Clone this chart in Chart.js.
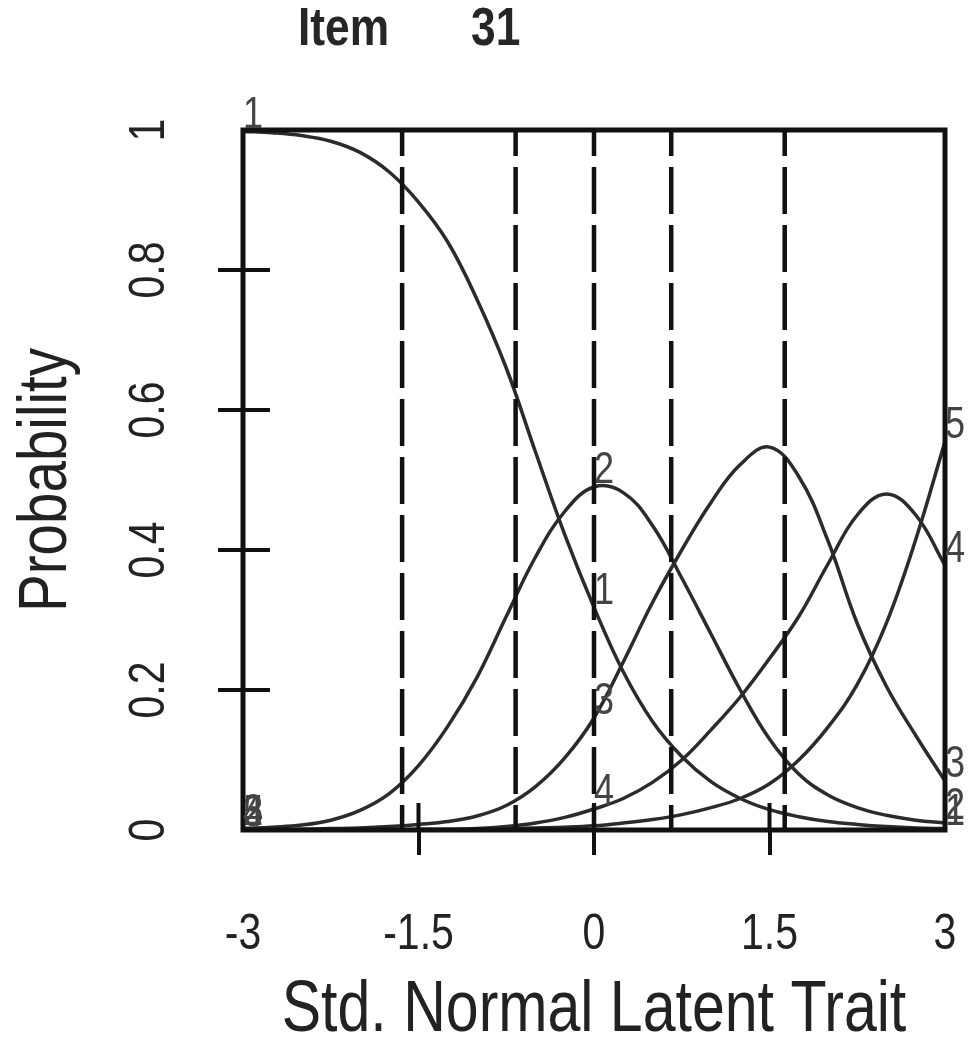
<!DOCTYPE html>
<html>
<head>
<meta charset="utf-8">
<script src="https://cdn.jsdelivr.net/npm/chart.js@4/dist/chart.umd.min.js"></script>
<style>
  html, body { margin: 0; padding: 0; background: #ffffff; }
  #wrap { width: 980px; height: 1050px; position: relative; }
</style>
</head>
<body>
<div id="wrap"><canvas id="c" width="980" height="1050"></canvas></div>
<script>
// ---------------- data ----------------
const titleWord = 'Item';
const titleNumber = '31';
const xAxisTitle = 'Std. Normal Latent Trait';
const yAxisTitle = 'Probability';

const xTickValues = [-3, -1.5, 0, 1.5, 3];
const xTickLabels = ['-3', '-1.5', '0', '1.5', '3'];
const yTickValues = [0, 0.2, 0.4, 0.6, 0.8, 1];
const yTickLabels = ['0', '0.2', '0.4', '0.6', '0.8', '1'];

const theta = [-3, -2.75, -2.5, -2.25, -2, -1.75, -1.5, -1.25, -1, -0.75, -0.5, -0.25,
               0, 0.25, 0.5, 0.75, 1, 1.25, 1.5, 1.75, 2, 2.25, 2.5, 2.75, 3];

const categoryNames = ['1', '2', '3', '4', '5'];
const cat1 = [0.998, 0.996, 0.992, 0.984, 0.968, 0.940, 0.897, 0.840, 0.758, 0.660, 0.540, 0.422,
              0.318, 0.226, 0.155, 0.105, 0.069, 0.045, 0.029, 0.019, 0.012, 0.008, 0.005, 0.003, 0.002];
const cat2 = [0.002, 0.004, 0.007, 0.014, 0.028, 0.052, 0.092, 0.148, 0.218, 0.305, 0.390, 0.455,
              0.490, 0.482, 0.435, 0.360, 0.280, 0.200, 0.130, 0.080, 0.050, 0.032, 0.021, 0.014, 0.010];
const cat3 = [0.000, 0.000, 0.001, 0.002, 0.003, 0.005, 0.008, 0.012, 0.020, 0.035, 0.062, 0.103,
              0.160, 0.240, 0.325, 0.400, 0.468, 0.522, 0.547, 0.505, 0.413, 0.295, 0.205, 0.135, 0.070];
const cat4 = [0.000, 0.000, 0.000, 0.000, 0.000, 0.000, 0.001, 0.001, 0.002, 0.005, 0.010, 0.018,
              0.030, 0.045, 0.068, 0.100, 0.143, 0.190, 0.245, 0.305, 0.380, 0.450, 0.480, 0.450, 0.378];
const cat5 = [0.000, 0.000, 0.000, 0.000, 0.000, 0.000, 0.000, 0.000, 0.001, 0.002, 0.003, 0.004,
              0.006, 0.010, 0.015, 0.022, 0.032, 0.045, 0.066, 0.100, 0.147, 0.208, 0.296, 0.415, 0.555];
const categories = [cat1, cat2, cat3, cat4, cat5];

// theta values where the curves carry their category number
const labelAt1 = [-3, 0, 3];
const labelAt2 = [-3, 0, 3];
const labelAt3 = [-3, 0, 3];
const labelAt4 = [-3, 0, 3];
const labelAt5 = [-3, 3];
const labelPositions = [labelAt1, labelAt2, labelAt3, labelAt4, labelAt5];

// dashed vertical reference lines
const cutPoints = [-1.64, -0.67, 0, 0.66, 1.63];

// ---------------- chart ----------------
const FONT = "'Liberation Sans', Arial, sans-serif";
const SQUEEZE = 0.82;   // the reference text is horizontally condensed

const canvas = document.getElementById('c');
const ctx2d = canvas.getContext('2d');
const origFillText = ctx2d.fillText.bind(ctx2d);
ctx2d.fillText = function (text, x, y, maxWidth) {
  this.save();
  this.translate(x, y);
  this.scale(SQUEEZE, 1);
  if (maxWidth === undefined) origFillText(text, 0, 0);
  else origFillText(text, 0, 0, maxWidth / SQUEEZE);
  this.restore();
};

const curveSets = categories.map((vals, i) => ({
  label: 'Category ' + categoryNames[i],
  data: theta.map((t, k) => ({ x: t, y: vals[k] })),
  borderColor: '#2b2b2b',
  borderWidth: 3.5,
  pointRadius: 0,
  fill: false,
  tension: 0.4
}));

const cutSets = cutPoints.map((c) => ({
  label: 'cut ' + c,
  data: [{ x: c, y: 1 }, { x: c, y: 0 }],
  borderColor: '#111111',
  borderWidth: 4.5,
  borderDash: [47, 11],
  borderDashOffset: 21,
  pointRadius: 0,
  fill: false,
  tension: 0
}));

const endTick = (ctx, list) => {
  const v = ctx.tick ? ctx.tick.value : null;
  return (v === list[0] || v === list[list.length - 1]) ? 'rgba(0,0,0,0)' : '#111111';
};

const decorPlugin = {
  id: 'decor',
  afterDatasetsDraw(chart) {
    const { ctx, chartArea: a, scales } = chart;
    const xs = scales.x, ys = scales.y;
    ctx.save();
    // plot frame
    ctx.strokeStyle = '#111111';
    ctx.lineWidth = 5;
    ctx.strokeRect(a.left, a.top, a.right - a.left, a.bottom - a.top);
    // inner halves of the tick marks
    ctx.lineWidth = 4;
    ctx.beginPath();
    xTickValues.slice(1, -1).forEach(v => {
      const px = xs.getPixelForValue(v);
      ctx.moveTo(px, a.bottom); ctx.lineTo(px, a.bottom - 27);
    });
    yTickValues.slice(1, -1).forEach(v => {
      const py = ys.getPixelForValue(v);
      ctx.moveTo(a.left, py); ctx.lineTo(a.left + 27, py);
    });
    ctx.stroke();
    // category numbers on the curves
    ctx.font = '44px ' + FONT;
    ctx.fillStyle = '#444444';
    ctx.textAlign = 'center';
    ctx.textBaseline = 'middle';
    labelPositions.forEach((list, i) => {
      list.forEach(t => {
        const k = theta.indexOf(t);
        const val = categories[i][k];
        ctx.fillText(categoryNames[i], xs.getPixelForValue(t) + 10, ys.getPixelForValue(val) - 16);
      });
    });
    // title
    ctx.font = 'bold 54px ' + FONT;
    ctx.fillStyle = '#262626';
    ctx.textAlign = 'left';
    ctx.textBaseline = 'alphabetic';
    ctx.fillText(titleWord, 298, 45);
    ctx.fillText(titleNumber, 471, 45);
    ctx.restore();
  }
};

new Chart(canvas, {
  type: 'line',
  data: { datasets: [...cutSets, ...curveSets] },
  plugins: [decorPlugin],
  options: {
    responsive: false,
    animation: false,
    events: [],
    layout: { padding: { left: 0, right: 35, top: 130, bottom: 0 } },
    plugins: { legend: { display: false }, tooltip: { enabled: false }, title: { display: false } },
    scales: {
      x: {
        type: 'linear', min: -3, max: 3,
        afterFit: s => { s.height = 220; s.paddingLeft = 0; s.paddingRight = 0; },
        afterBuildTicks: s => { s.ticks = xTickValues.map(v => ({ value: v })); },
        border: { display: false },
        grid: {
          drawOnChartArea: false, drawTicks: true, tickLength: 25, lineWidth: 4,
          color: ctx => endTick(ctx, xTickValues), tickColor: ctx => endTick(ctx, xTickValues)
        },
        ticks: {
          autoSkip: false, maxRotation: 0, minRotation: 0, padding: 50,
          color: '#222222',
          font: { family: FONT, size: 50 },
          callback: (v) => xTickLabels[xTickValues.indexOf(v)]
        },
        title: {
          display: true, text: xAxisTitle, color: '#222222',
          font: { family: FONT, size: 72, lineHeight: 1 }, padding: { top: 0, bottom: 3 }
        }
      },
      y: {
        type: 'linear', min: 0, max: 1,
        afterFit: s => { s.width = 243; s.paddingTop = 0; s.paddingBottom = 0; },
        afterBuildTicks: s => { s.ticks = yTickValues.map(v => ({ value: v })); },
        border: { display: false },
        grid: {
          drawOnChartArea: false, drawTicks: true, tickLength: 25, lineWidth: 4,
          color: ctx => endTick(ctx, yTickValues), tickColor: ctx => endTick(ctx, yTickValues)
        },
        ticks: {
          autoSkip: false, minRotation: 90, maxRotation: 90, padding: 33, crossAlign: 'center',
          color: '#222222',
          font: { family: FONT, size: 50 },
          callback: (v) => yTickLabels[yTickValues.indexOf(v)]
        },
        title: {
          display: true, text: yAxisTitle, color: '#222222',
          font: { family: FONT, size: 69, lineHeight: 1 }, padding: { top: 12, bottom: 0 }
        }
      }
    }
  }
});
</script>
</body>
</html>
